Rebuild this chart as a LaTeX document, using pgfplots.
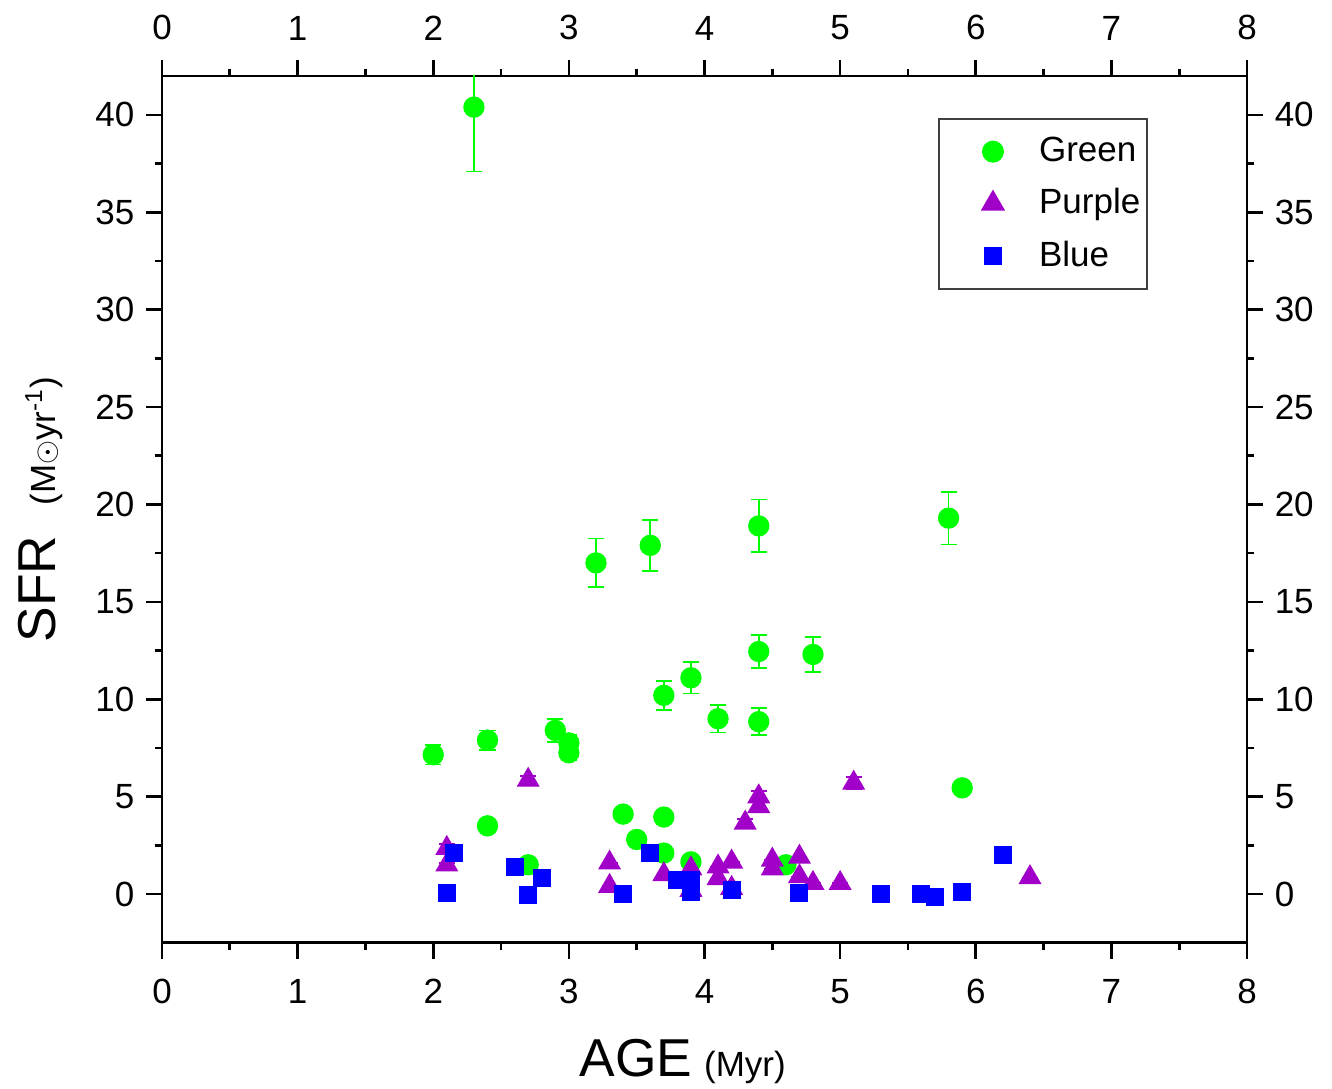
\documentclass[border=0pt]{standalone}
\usepackage{pgfplots}
\pgfplotsset{compat=1.18}
\usepackage{pgfplotstable}
\usepackage{fontspec}
\setmainfont{Liberation Sans}
\definecolor{ptGreen}{HTML}{00FF00}
\definecolor{ptPurple}{HTML}{A000C8}
\definecolor{ptBlue}{HTML}{0000FF}

% x = age (Myr), y = SFR, e = error
\pgfplotstableread{
x y e
2.3 40.4 3.3
2.0 7.15 0.5
2.4 7.9 0.5
2.4 3.5 0
2.9 8.4 0.6
3.0 7.76 0.4
3.0 7.25 0.4
3.2 17.0 1.25
3.6 17.9 1.3
4.4 18.9 1.35
5.8 19.3 1.35
4.4 12.45 0.85
4.8 12.3 0.9
3.9 11.1 0.8
3.7 10.2 0.75
4.1 9.0 0.7
4.4 8.85 0.7
5.9 5.45 0.2
3.4 4.1 0
3.7 3.95 0
3.5 2.8 0
3.7 2.1 0
2.7 1.5 0.3
3.9 1.65 0
4.6 1.5 0.3
}\greendata

\pgfplotstableread{
x y e
2.7 5.85 0.2
2.1 2.35 0.2
2.1 1.5 0.1
3.3 1.6 0
3.3 0.4 0
3.7 1.0 0
3.9 1.3 0.3
3.9 0.2 0.2
4.1 1.4 0
4.1 0.8 0
4.2 1.65 0
4.2 0.3 0.2
4.3 3.65 0.2
4.4 5.0 0.3
4.4 4.5 0.2
4.5 1.75 0
4.5 1.3 0
4.7 1.9 0
4.7 0.9 0
4.8 0.55 0
5.0 0.55 0
5.1 5.7 0.3
6.4 0.85 0
}\purpledata

\pgfplotstableread{
x y e
2.15 2.1 0.2
2.1 0.05 0
2.6 1.4 0.2
2.7 -0.05 0
2.8 0.8 0
3.4 0 0
3.6 2.1 0.2
3.8 0.7 0.2
3.9 0.7 0.2
3.9 0.1 0
4.2 0.2 0
4.7 0.05 0
5.3 0 0
5.6 0 0
5.7 -0.15 0
5.9 0.1 0
6.2 2.0 0
}\bluedata

\pgfplotsset{
  sfrbase/.style={
    scale only axis,
    width=325.5pt, height=260pt,
    xmin=0, xmax=8, ymin=-2.5, ymax=42,
    xtick={0,1,...,8}, ytick={0,5,...,40},
    minor x tick num=1, minor y tick num=1,
    tick align=outside,
    major tick length=4.8pt, minor tick length=2.2pt,
    axis line style={line width=0.8pt},
    every tick/.style={black, line width=0.8pt},
    /pgf/number format/assume math mode=true,
    ticklabel style={font=\fontsize{10.5}{12}\selectfont},
  },
  % invisible path widens the legend image around the marker
  legimg/.style={legend image code/.code={
    \path (-6pt,0pt) (21.5pt,0pt);
    \draw[mark repeat=2, mark phase=2, ##1]
      plot coordinates {(0cm,0cm) (0.35cm,0cm) (0.75cm,0cm)};}},
  ebar/.style={
    error bars/error bar style={#1, line width=0.5pt},
    error bars/error mark options={rotate=90, mark size=2.4pt, line width=0.5pt}},
}

\begin{document}
\begin{tikzpicture}
\begin{axis}[
  sfrbase,
  tick pos=both,
  xticklabel style={yshift=-2.6pt},
  xlabel={{\fontsize{16}{18}\selectfont AGE}\hspace{0.35em}{\fontsize{10.5}{12}\selectfont (Myr)}},
  ylabel={{\fontsize{16}{18}\selectfont SFR}\hspace{0.9em}{\fontsize{10.5}{12}\selectfont (M{\small$\odot$}yr\textsuperscript{-1})}},
  x label style={at={(axis description cs:0.48,-0.137)}, anchor=center},
  y label style={at={(axis description cs:-0.112,0.5)}, anchor=center},
  legend style={at={(0.715,0.952)}, anchor=north west, draw=black!75,
    line width=0.6pt, font=\fontsize{10.5}{12}\selectfont,
    row sep=2.6pt, inner xsep=0pt, inner ysep=3.5pt},
  legend cell align=left,
  error bars/y dir=both, error bars/y explicit,
]
\addplot[only marks, legimg, mark=*, mark size=3pt, color=ptGreen, ebar=ptGreen]
  table[x=x, y=y, y error=e]{\greendata};
\addlegendentry{Green}
\addplot[only marks, legimg, mark=triangle*, mark size=3.6pt, color=ptPurple, ebar=ptPurple]
  table[x=x, y=y, y error=e]{\purpledata};
\addlegendentry{Purple}
\addplot[only marks, legimg, mark=square*, mark size=2.5pt, color=ptBlue, ebar=ptBlue]
  table[x=x, y=y, y error=e]{\bluedata};
\addlegendentry{Blue}
\end{axis}
% second axis: tick labels on top and right
\begin{axis}[
  sfrbase,
  axis line style={draw=none},
  every tick/.style={draw=none},
  xticklabel pos=right, yticklabel pos=right,
  xticklabel style={yshift=2.4pt},
]
\end{axis}
\pgfresetboundingbox
\path ([shift={(-48.6pt,-43.8pt)}]current axis.south west) rectangle ([shift={(25.5pt,22.8pt)}]current axis.north east);
\end{tikzpicture}
\end{document}
